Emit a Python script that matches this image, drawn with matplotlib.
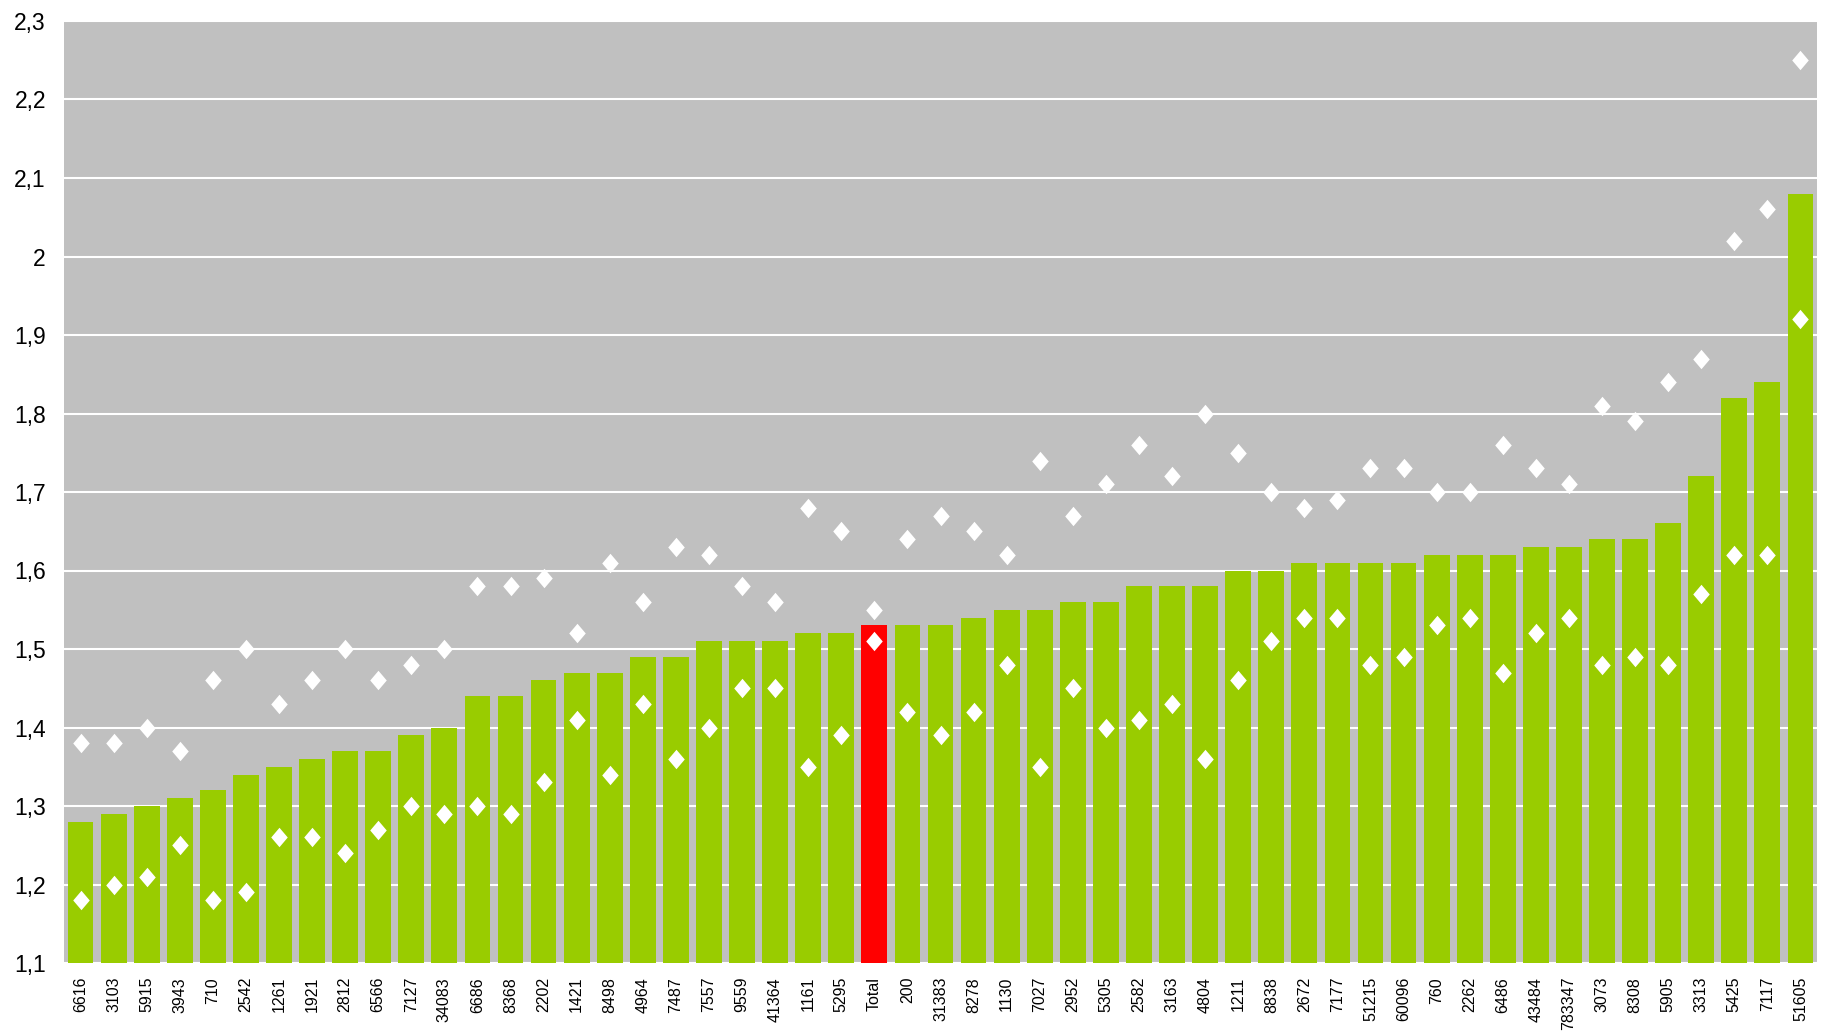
import matplotlib
matplotlib.use("Agg")
import matplotlib.pyplot as plt
import numpy as np

labels = ['6616', '3103', '5915', '3943', '710', '2542', '1261', '1921', '2812', '6566',
          '7127', '34083', '6686', '8368', '2202', '1421', '8498', '4964', '7487', '7557',
          '9559', '41364', '1161', '5295', 'Total', '200', '31383', '8278', '1130', '7027',
          '2952', '5305', '2582', '3163', '4804', '1211', '8838', '2672', '7177', '51215',
          '60096', '760', '2262', '6486', '43484', '783347', '3073', '8308', '5905', '3313',
          '5425', '7117', '51605']

values = [1.28, 1.29, 1.30, 1.31, 1.32, 1.34, 1.35, 1.36, 1.37, 1.37,
          1.39, 1.40, 1.44, 1.44, 1.46, 1.47, 1.47, 1.49, 1.49, 1.51,
          1.51, 1.51, 1.52, 1.52, 1.53, 1.53, 1.53, 1.54, 1.55, 1.55,
          1.56, 1.56, 1.58, 1.58, 1.58, 1.60, 1.60, 1.61, 1.61, 1.61,
          1.61, 1.62, 1.62, 1.62, 1.63, 1.63, 1.64, 1.64, 1.66, 1.72,
          1.82, 1.84, 2.08]

upper = [1.38, 1.38, 1.40, 1.37, 1.46, 1.50, 1.43, 1.46, 1.50, 1.46,
         1.48, 1.50, 1.58, 1.58, 1.59, 1.52, 1.61, 1.56, 1.63, 1.62,
         1.58, 1.56, 1.68, 1.65, 1.55, 1.64, 1.67, 1.65, 1.62, 1.74,
         1.67, 1.71, 1.76, 1.72, 1.80, 1.75, 1.70, 1.68, 1.69, 1.73,
         1.73, 1.70, 1.70, 1.76, 1.73, 1.71, 1.81, 1.79, 1.84, 1.87,
         2.02, 2.06, 2.25]

lower = [1.18, 1.20, 1.21, 1.25, 1.18, 1.19, 1.26, 1.26, 1.24, 1.27,
         1.30, 1.29, 1.30, 1.29, 1.33, 1.41, 1.34, 1.43, 1.36, 1.40,
         1.45, 1.45, 1.35, 1.39, 1.51, 1.42, 1.39, 1.42, 1.48, 1.35,
         1.45, 1.40, 1.41, 1.43, 1.36, 1.46, 1.51, 1.54, 1.54, 1.48,
         1.49, 1.53, 1.54, 1.47, 1.52, 1.54, 1.48, 1.49, 1.48, 1.57,
         1.62, 1.62, 1.92]

yticks = [1.1, 1.2, 1.3, 1.4, 1.5, 1.6, 1.7, 1.8, 1.9, 2.0, 2.1, 2.2, 2.3]

plt.rcParams['font.family'] = ['Liberation Sans', 'DejaVu Sans']

fig = plt.figure(figsize=(18.21, 10.32), dpi=100)
ax = fig.add_axes([64 / 1821, 1 - 963 / 1032, (1817 - 64) / 1821, (963 - 21) / 1032])
ax.set_facecolor('#C0C0C0')

x = np.arange(len(labels))
colors = ['#FF0000' if l == 'Total' else '#99CC00' for l in labels]
ax.bar(x, np.array(values) - 1.1, bottom=1.1, width=0.78, color=colors, zorder=2)

# slightly tall diamond
diamond = [(0, 1), (0.85, 0), (0, -1), (-0.85, 0), (0, 1)]
ax.plot(x, upper, linestyle='none', marker=diamond, markersize=14,
        color='white', markeredgewidth=0, zorder=3)
ax.plot(x, lower, linestyle='none', marker=diamond, markersize=14,
        color='white', markeredgewidth=0, zorder=3)

ax.set_xlim(-0.5, len(labels) - 0.5)
ax.set_ylim(1.1, 2.3)
ax.set_yticks(yticks)
ax.set_yticklabels([('%g' % t).replace('.', ',') for t in yticks], fontsize=16.5)
ax.set_xticks(x)
ax.set_xticklabels(labels, rotation=90, fontsize=11.5)
ax.tick_params(axis='x', length=0, pad=10)
ax.tick_params(axis='y', length=0, pad=13)
ax.yaxis.grid(True, color='white', linewidth=1.5, zorder=1)
ax.set_axisbelow(True)
for s in ax.spines.values():
    s.set_visible(False)

fig.savefig('out.png', dpi=100, facecolor='white')
